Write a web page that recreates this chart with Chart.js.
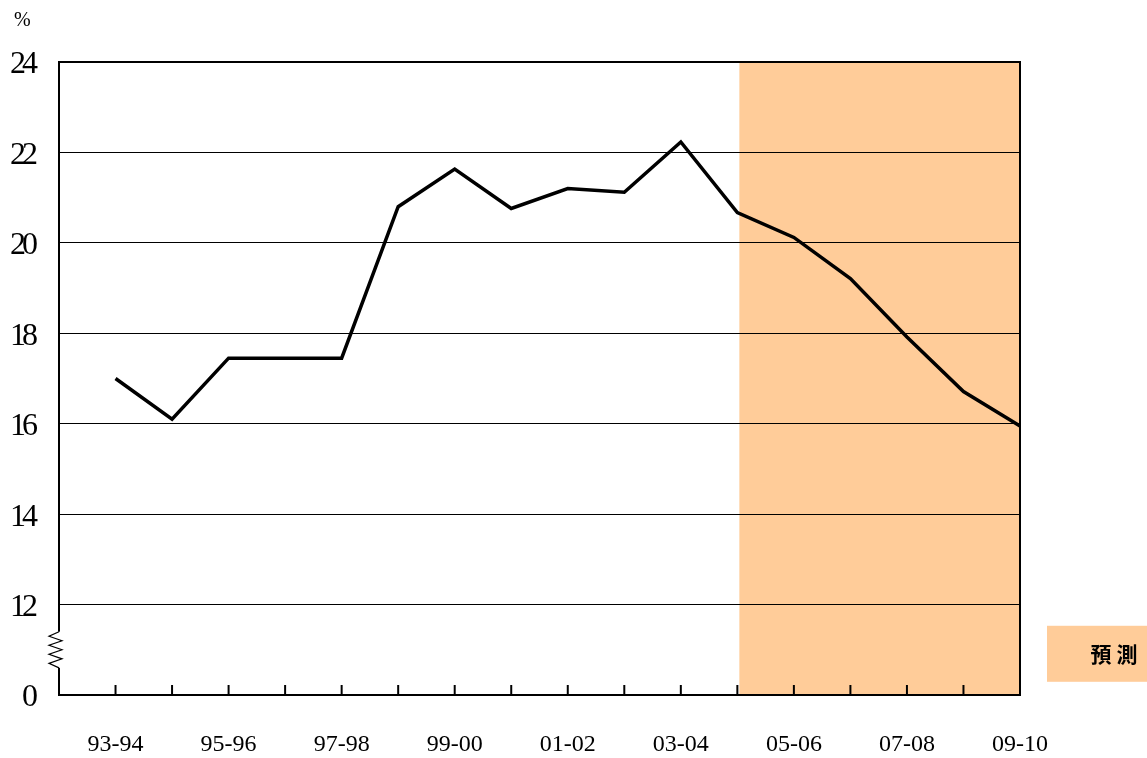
<!DOCTYPE html>
<html>
<head>
<meta charset="utf-8">
<script src="https://cdn.jsdelivr.net/npm/chart.js@4/dist/chart.umd.min.js"></script>
<style>
  html, body { margin: 0; padding: 0; background: #ffffff; }
  #wrap { width: 1147px; height: 758px; }
</style>
</head>
<body>
<div id="wrap"><canvas id="c" width="1147" height="758"></canvas></div>
<script>
const categories = ['93-94','94-95','95-96','96-97','97-98','98-99','99-00','00-01','01-02','02-03','03-04','04-05','05-06','06-07','07-08','08-09','09-10'];
const values = [17.0, 16.1, 17.45, 17.45, 17.45, 20.8, 21.63, 20.76, 21.2, 21.12, 22.23, 20.67, 20.12, 19.21, 17.92, 16.71, 15.95];
const yTickValues = [10, 12, 14, 16, 18, 20, 22, 24];
const yTickLabels = ['0', '12', '14', '16', '18', '20', '22', '24'];
const forecastStart = '04-05';
const forecastLabel = '預 測';
const unitLabel = '%';
const breakFrom = 10.6, breakTo = 11.4;

const SERIF = "'Liberation Serif', 'Times New Roman', serif";
const shade = '#FFCC99';

const labels = [''].concat(categories);
const data = [null].concat(values);

const decor = {
  id: 'decor',
  beforeDraw(chart) {
    const ctx = chart.ctx, a = chart.chartArea, xs = chart.scales.x;
    const x0 = xs.getPixelForValue(labels.indexOf(forecastStart)) + 2;
    ctx.save();
    ctx.fillStyle = shade;
    ctx.fillRect(x0, a.top, a.right - x0, a.bottom - a.top);
    ctx.restore();
  },
  afterDatasetsDraw(chart) {
    const ctx = chart.ctx, a = chart.chartArea, xs = chart.scales.x, ys = chart.scales.y;
    ctx.save();
    ctx.strokeStyle = '#000';
    ctx.lineWidth = 2;
    ctx.beginPath();
    ctx.moveTo(a.left, a.top);
    ctx.lineTo(a.right, a.top);
    ctx.lineTo(a.right, a.bottom);
    ctx.stroke();
    for (let i = 1; i < labels.length; i++) {
      const x = xs.getPixelForValue(i);
      ctx.beginPath();
      ctx.moveTo(x, a.bottom);
      ctx.lineTo(x, a.bottom - 10);
      ctx.stroke();
    }
    const yb1 = ys.getPixelForValue(breakTo), yb2 = ys.getPixelForValue(breakFrom);
    ctx.fillStyle = '#fff';
    ctx.fillRect(a.left - 3, yb1, 6, yb2 - yb1);
    ctx.lineWidth = 1.2;
    ctx.beginPath();
    const n = 8;
    for (let k = 0; k <= n; k++) {
      const y = yb1 + (yb2 - yb1) * k / n;
      let x;
      if (k === 0 || k === n) x = a.left;
      else x = (k % 2 === 1) ? a.left - 10 : a.left + 3;
      if (k === 0) ctx.moveTo(x, y); else ctx.lineTo(x, y);
    }
    ctx.stroke();
    ctx.restore();
    ctx.letterSpacing = '-4px';
  },
  afterDraw(chart) {
    const ctx = chart.ctx, a = chart.chartArea, ys = chart.scales.y;
    ctx.letterSpacing = '0px';
    ctx.save();
    ctx.fillStyle = '#000';
    ctx.font = '20px ' + SERIF;
    ctx.textAlign = 'left';
    ctx.textBaseline = 'middle';
    ctx.fillText(unitLabel, 14, 21);
    const bx = a.right + 27;
    const cy = ys.getPixelForValue(11) + 4;
    ctx.fillStyle = shade;
    ctx.fillRect(bx, cy - 28, chart.width - bx, 56);
    ctx.fillStyle = '#000';
    ctx.font = "bold 21px 'Noto Sans CJK TC', 'Noto Sans CJK SC', sans-serif";
    ctx.textAlign = 'center';
    ctx.fillText(forecastLabel, bx + 67, cy);
    ctx.restore();
  }
};

new Chart(document.getElementById('c'), {
  type: 'line',
  data: {
    labels: labels,
    datasets: [{
      data: data,
      borderColor: '#000',
      borderWidth: 3.5,
      pointRadius: 0,
      tension: 0,
      fill: false,
      spanGaps: false
    }]
  },
  options: {
    responsive: false,
    animation: false,
    layout: { padding: { left: 0, right: 127, top: 62, bottom: 0 } },
    plugins: { legend: { display: false }, tooltip: { enabled: false } },
    scales: {
      x: {
        type: 'category',
        offset: false,
        grid: { display: false, drawTicks: false },
        border: { display: true, color: '#000', width: 2 },
        ticks: {
          autoSkip: false,
          maxRotation: 0,
          padding: 35,
          color: '#000',
          font: { family: SERIF, size: 24 },
          callback: (v, i) => (i % 2 === 1 ? labels[i] : '')
        },
        afterFit: (s) => { s.height = 63; }
      },
      y: {
        type: 'linear',
        min: 10,
        max: 24,
        afterBuildTicks: (s) => { s.ticks = yTickValues.map(v => ({ value: v })); },
        grid: { color: '#000', lineWidth: 1, drawTicks: false },
        border: { display: true, color: '#000', width: 2 },
        ticks: {
          z: 1,
          padding: 25,
          labelOffset: 3,
          color: '#000',
          font: { family: SERIF, size: 32 },
          callback: (v, i) => yTickLabels[i]
        },
        afterFit: (s) => { s.width = 59; }
      }
    }
  },
  plugins: [decor]
});
</script>
</body>
</html>
